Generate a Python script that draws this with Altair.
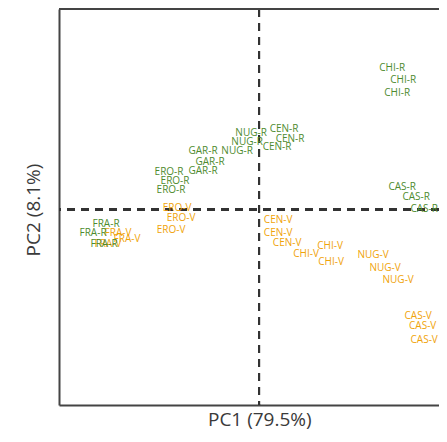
import altair as alt
import pandas as pd

labels_r = ["CHI-R", "CHI-R", "CHI-R",
            "NUG-R", "NUG-R", "NUG-R",
            "CEN-R", "CEN-R", "CEN-R",
            "GAR-R", "GAR-R", "GAR-R",
            "ERO-R", "ERO-R", "ERO-R",
            "FRA-R", "FRA-R", "FRA-R",
            "CAS-R", "CAS-R", "CAS-R"]
pc1_r = [2.66, 2.88, 2.76,
         -0.16, -0.24, -0.44,
         0.50, 0.62, 0.36,
         -1.12, -0.98, -1.12,
         -1.80, -1.68, -1.76,
         -3.06, -3.32, -3.10,
         2.86, 3.14, 3.30]
pc2_r = [2.82, 2.58, 2.32,
         1.52, 1.34, 1.16,
         1.60, 1.40, 1.24,
         1.16, 0.94, 0.76,
         0.74, 0.56, 0.38,
         -0.28, -0.46, -0.68,
         0.44, 0.24, 0.02]

labels_v = ["ERO-V", "ERO-V", "ERO-V",
            "FRA-V", "FRA-V", "FRA-V",
            "CEN-V", "CEN-V", "CEN-V",
            "CHI-V", "CHI-V", "CHI-V",
            "NUG-V", "NUG-V", "NUG-V",
            "CAS-V", "CAS-V", "CAS-V"]
pc1_v = [-1.64, -1.56, -1.76,
         -2.82, -2.64, -3.02,
         0.38, 0.38, 0.56,
         1.42, 0.94, 1.44,
         2.28, 2.52, 2.78,
         3.18, 3.27, 3.30]
pc2_v = [0.04, -0.16, -0.40,
         -0.46, -0.58, -0.68,
         -0.20, -0.46, -0.66,
         -0.72, -0.88, -1.04,
         -0.90, -1.16, -1.40,
         -2.12, -2.32, -2.60]

x_domain = [-4, 3.596]
y_domain = [-3.9, 4]
groups = ["V", "R"]
colors = ["#f0a30a", "#4e8b2e"]

df = pd.concat([
    pd.DataFrame({"label": labels_v, "PC1": pc1_v, "PC2": pc2_v, "grp": "V", "order": 0}),
    pd.DataFrame({"label": labels_r, "PC1": pc1_r, "PC2": pc2_r, "grp": "R", "order": 1}),
], ignore_index=True)

xs = alt.Scale(domain=x_domain, nice=False, zero=False)
ys = alt.Scale(domain=y_domain, nice=False, zero=False)

x_axis = alt.Axis(title="PC1 (79.5%)", labels=False, ticks=False, grid=False,
                  domain=True, domainColor="#444444", domainWidth=2,
                  titleX=200.3, titleY=20, titleAlign="center",
                  titleBaseline="alphabetic")
y_axis = alt.Axis(title="PC2 (8.1%)", labels=False, ticks=False, grid=False,
                  domain=True, domainColor="#444444", domainWidth=2,
                  titleX=-26, titleY=200.5, titleAngle=270, titleAlign="center",
                  titleBaseline="middle")

base = alt.Chart(df)

vline = base.mark_rule(color="#333333", strokeWidth=1.8, strokeDash=[8, 6]).encode(
    x=alt.datum(0, scale=xs, axis=x_axis))
hline = base.mark_rule(color="#333333", strokeWidth=1.8, strokeDash=[8, 6]).encode(
    y=alt.datum(0, scale=ys, axis=y_axis))
topline = base.mark_rule(color="#444444", strokeWidth=2).encode(
    y=alt.datum(y_domain[1], scale=ys))

text = base.mark_text(fontSize=10, font="Open Sans", align="center",
                      baseline="middle").encode(
    x=alt.X("PC1:Q", scale=xs, axis=x_axis),
    y=alt.Y("PC2:Q", scale=ys, axis=y_axis),
    text="label:N",
    color=alt.Color("grp:N", scale=alt.Scale(domain=groups, range=colors), legend=None),
    order=alt.Order("order:Q"),
)

chart = alt.layer(vline, hline, topline, text).properties(
    width=380, height=396,
    autosize=alt.AutoSizeParams(type="none"),
    padding={"left": 51, "top": 1, "right": 0, "bottom": 25},
).configure(font="Open Sans").configure_view(stroke=None).configure_axis(
    titleFont="Open Sans", titleFontSize=19, titleFontWeight="normal",
    titleColor="#3a3a3a", titlePadding=0,
)

chart.save("out.html", embed_options={"renderer": "svg", "actions": False})
